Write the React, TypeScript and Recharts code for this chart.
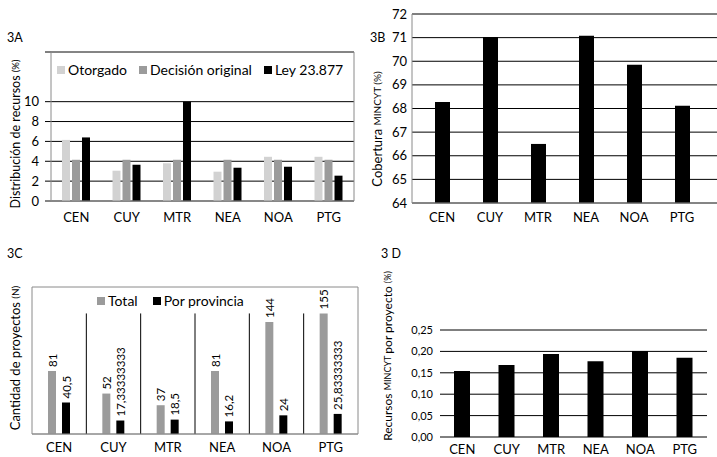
import {
  BarChart,
  Bar,
  XAxis,
  YAxis,
  CartesianGrid,
  LabelList,
  ReferenceArea,
  ReferenceLine,
} from 'recharts';

// regions
const categories = ['CEN', 'CUY', 'MTR', 'NEA', 'NOA', 'PTG'];

// 3A - distribución de recursos (%)
const otorgado = [6.15, 3.05, 3.8, 2.95, 4.45, 4.45];
const decisionOriginal = [4.15, 4.15, 4.15, 4.15, 4.15, 4.15];
const ley23877 = [6.4, 3.65, 10, 3.35, 3.45, 2.55];
const ticksA = [0, 2, 4, 6, 8, 10];

// 3B - cobertura MINCYT (%)
const cobertura = [68.28, 71.03, 66.5, 71.08, 69.85, 68.12];
const ticksB = [64, 65, 66, 67, 68, 69, 70, 71, 72];

// 3C - cantidad de proyectos (N)
const totalProyectos = [81, 52, 37, 81, 144, 155];
const porProvincia = [40.5, 17.33333333, 18.5, 16.2, 24, 25.83333333];

// 3D - recursos MINCYT por proyecto (%)
const recursosPorProyecto = [0.154, 0.168, 0.194, 0.177, 0.201, 0.185];
const ticksD = [0, 0.05, 0.1, 0.15, 0.2, 0.25];

const FONT = 'Lato, sans-serif';
const TEXT = '#000';
const LIGHT = '#d2d2d2';
const MID = '#9b9b9b';
const FRAME = '#8a8a8a';

const dataA = categories.map((c, i) => ({
  name: c,
  otorgado: otorgado[i],
  decision: decisionOriginal[i],
  ley: ley23877[i],
}));
const dataB = categories.map((c, i) => ({ name: c, value: cobertura[i] }));
const dataC = categories.map((c, i) => ({
  name: c,
  total: totalProyectos[i],
  prov: porProvincia[i],
}));
const dataD = categories.map((c, i) => ({ name: c, value: recursosPorProyecto[i] }));
// dividers between regions in 3C reach up to the tallest bar
const sepTop = Math.max(...totalProyectos);

const tickStyle = { fill: TEXT, fontSize: 13, fontFamily: FONT };
const comma = (v: number) => String(v).replace('.', ',');

// legends are drawn as plain html so they don't push the plot area down
function SwatchLegend({ items, gap, left, top }: { items: { label: string; color: string }[]; gap: number; left: number; top: number }) {
  return (
    <div style={{ position: 'absolute', left, top, display: 'flex', alignItems: 'center', fontFamily: FONT, fontSize: 14, color: TEXT, lineHeight: '16px' }}>
      {items.map((it) => (
        <div key={it.label} style={{ display: 'flex', alignItems: 'center', marginRight: gap }}>
          <span style={{ width: 8, height: 8, background: it.color, display: 'inline-block', marginRight: 3 }} />
          <span>{it.label}</span>
        </div>
      ))}
    </div>
  );
}

// rotated value label above each bar in 3C
const RotLabel = (props: any) => {
  const { x, y, width, value } = props;
  const cx = x + width / 2;
  const cy = y - 4;
  return (
    <text
      x={cx}
      y={cy}
      transform={`rotate(-90 ${cx} ${cy})`}
      textAnchor="start"
      dominantBaseline="central"
      fontSize={11.5}
      fontFamily={FONT}
      fill={TEXT}
    >
      {comma(value)}
    </text>
  );
};

function VTitle({ x, y, parts }: { x: number; y: number; parts: [string, number][] }) {
  return (
    <text
      x={x}
      y={y}
      transform={`rotate(-90 ${x} ${y})`}
      textAnchor="middle"
      dominantBaseline="central"
      fontFamily={FONT}
      fill={TEXT}
    >
      {parts.map(([t, s], i) => (
        <tspan key={i} fontSize={s}>
          {t}
        </tspan>
      ))}
    </text>
  );
}

const panelLabel = (text: string, left: number, top: number) => (
  <div style={{ position: 'absolute', left, top, fontFamily: FONT, fontSize: 12.5, color: TEXT, lineHeight: '14px' }}>
    {text}
  </div>
);

export default function App() {
  return (
    <div style={{ position: 'absolute', left: 0, top: 0, width: 717, height: 457, background: '#fff', overflow: 'hidden' }}>
      {/* 3A */}
      <div style={{ position: 'absolute', left: 0, top: 0 }}>
        <BarChart width={360} height={230} data={dataA} margin={{ top: 52, right: 6, bottom: 0, left: 0 }} barSize={8} barGap={2}>
          <ReferenceArea y1={0} y2={15} fill="none" stroke={FRAME} ifOverflow="visible" />
          <CartesianGrid horizontal vertical={false} stroke="#000" />
          <XAxis dataKey="name" height={29} tick={tickStyle} tickLine={false} tickSize={0} tickMargin={12} axisLine={{ stroke: FRAME }} padding={{ left: 6, right: 0 }} />
          <YAxis domain={[0, 15]} ticks={ticksA} interval={0} width={45} tick={tickStyle} tickLine={false} tickSize={0} tickMargin={6} axisLine={false} />
          <Bar dataKey="otorgado" name="Otorgado" fill={LIGHT} isAnimationActive={false} />
          <Bar dataKey="decision" name="Decisión original" fill={MID} isAnimationActive={false} />
          <Bar dataKey="ley" name="Ley 23.877" fill="#000" isAnimationActive={false} />
        </BarChart>
      </div>
      <SwatchLegend
        left={57}
        top={62}
        gap={12}
        items={[
          { label: 'Otorgado', color: LIGHT },
          { label: 'Decisión original', color: MID },
          { label: 'Ley 23.877', color: '#000' },
        ]}
      />

      {/* 3B */}
      <div style={{ position: 'absolute', left: 360, top: 0 }}>
        <BarChart width={357} height={230} data={dataB} margin={{ top: 14, right: 0, bottom: 0, left: 0 }} barSize={15}>
          <CartesianGrid horizontal vertical={false} stroke="#000" />
          <XAxis dataKey="name" height={27} tick={tickStyle} tickLine={false} tickSize={0} tickMargin={10} axisLine={{ stroke: FRAME }} padding={{ left: 6, right: 11 }} />
          <YAxis domain={[64, 72]} ticks={ticksB} interval={0} width={52} tick={tickStyle} tickLine={false} tickSize={0} tickMargin={5} axisLine={{ stroke: FRAME }} />
          <Bar dataKey="value" fill="#000" isAnimationActive={false} />
        </BarChart>
      </div>

      {/* 3C */}
      <div style={{ position: 'absolute', left: 0, top: 230 }}>
        <BarChart width={360} height={227} data={dataC} margin={{ top: 57, right: 2, bottom: 0, left: 32 }} barSize={8} barGap={6}>
          <ReferenceArea y1={0} y2={189} fill="none" stroke={FRAME} ifOverflow="visible" />
          <XAxis dataKey="name" height={23} tick={tickStyle} tickLine={false} tickSize={0} tickMargin={9} axisLine={{ stroke: FRAME }} />
          <YAxis domain={[0, 189]} hide />
          {categories.slice(1).map((c) => (
            <ReferenceLine
              key={c}
              position="start"
              segment={[
                { x: c, y: 0 },
                { x: c, y: sepTop },
              ]}
              stroke="#000"
            />
          ))}
          <Bar dataKey="total" name="Total" fill={MID} isAnimationActive={false}>
            <LabelList dataKey="total" content={RotLabel} />
          </Bar>
          <Bar dataKey="prov" name="Por provincia" fill="#000" isAnimationActive={false}>
            <LabelList dataKey="prov" content={RotLabel} />
          </Bar>
        </BarChart>
      </div>
      <SwatchLegend
        left={97}
        top={293}
        gap={15}
        items={[
          { label: 'Total', color: MID },
          { label: 'Por provincia', color: '#000' },
        ]}
      />

      {/* 3D */}
      <div style={{ position: 'absolute', left: 360, top: 230 }}>
        <BarChart width={357} height={227} data={dataD} margin={{ top: 100, right: 10, bottom: 0, left: 0 }} barSize={16}>
          <CartesianGrid horizontal vertical={false} stroke="#000" />
          <XAxis dataKey="name" height={20} tick={tickStyle} tickLine={false} tickSize={0} tickMargin={8} axisLine={false} />
          <YAxis
            domain={[0, 0.25]}
            ticks={ticksD}
            interval={0}
            width={80}
            tick={{ ...tickStyle, fontSize: 11 }}
            tickFormatter={(v: number) => v.toFixed(2).replace('.', ',')}
            tickLine={false}
            tickSize={0}
            tickMargin={7}
            axisLine={false}
          />
          <Bar dataKey="value" fill="#000" isAnimationActive={false} />
        </BarChart>
      </div>

      {/* panel labels and axis titles */}
      {panelLabel('3A', 7, 31)}
      {panelLabel('3B', 370, 31)}
      {panelLabel('3C', 7, 247)}
      {panelLabel('3 D', 381, 247)}
      <svg width={717} height={457} style={{ position: 'absolute', left: 0, top: 0, pointerEvents: 'none' }}>
        <VTitle x={15} y={134} parts={[['Distribución de recursos ', 12.5], ['(%)', 9.5]]} />
        <VTitle x={377} y={129} parts={[['Cobertura ', 13], ['MINCYT ', 10], ['(%)', 10]]} />
        <VTitle x={15} y={358} parts={[['Cantidad de proyectos ', 13], ['(N)', 10]]} />
        <VTitle x={387} y={356} parts={[['Recursos ', 12], ['MINCYT ', 9], ['por proyecto ', 12], ['(%)', 9]]} />
      </svg>
    </div>
  );
}
